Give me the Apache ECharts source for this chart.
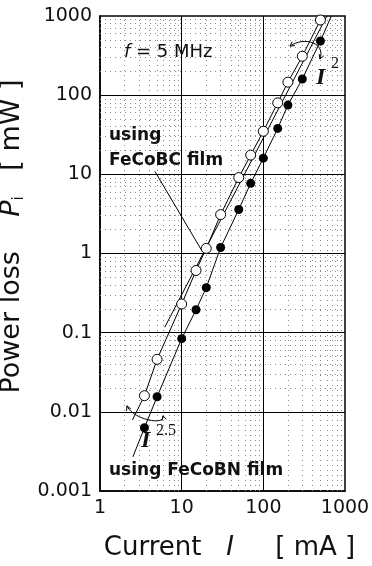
<!DOCTYPE html>
<html><head><meta charset="utf-8">
<script src="https://cdn.jsdelivr.net/npm/echarts@6/dist/echarts.min.js"></script>
<style>html,body{margin:0;padding:0;background:#fff}#c{width:372px;height:566px}</style>
</head><body><div id="c"></div>
<script>
// ---- data ----
const currentMA   = [3.5, 5, 10, 15, 20, 30, 50, 70, 100, 150, 200, 300, 500];
const lossFeCoBC  = [0.016, 0.046, 0.23, 0.61, 1.16, 3.1, 9.1, 17.5, 35, 80, 146, 310, 890];
const lossFeCoBN  = [0.0063, 0.0155, 0.084, 0.195, 0.37, 1.19, 3.6, 7.7, 16, 38, 75, 160, 483];
const lineEndsFeCoBC = [[2.5, 0.0079], [520, 1000]];
const lineEndsFeCoBN = [[2.53, 0.0027], [680, 1000]];
const squareLawLine  = [[6.2, 0.117], [600, 1000]];
const leaderFeCoBC   = [[4.7, 10.9], [18, 1.05]];
const arcTop    = [[212, 417], [323, 558], [584, 455], [493, 286]];
const arcBottom = [[2.14, 0.0119], [2.535, 0.00792], [6.42, 0.00665], [5.9, 0.0089]];
const xTickLabels = ['1', '10', '100', '1000'];
const yTickLabels = ['0.001', '0.01', '0.1', '1', '10', '100', '1000'];
const xMajor = [10, 100];
const yMajor = [0.01, 0.1, 1, 10, 100];
const minorFactors = [2, 3, 4, 5, 6, 7, 8, 9];
const xDecades = [1, 10, 100];
const yDecades = [0.001, 0.01, 0.1, 1, 10, 100];

const pairs = (xs, ys) => xs.map((x, i) => [x, ys[i]]);
const ptsBC = pairs(currentMA, lossFeCoBC);
const ptsBN = pairs(currentMA, lossFeCoBN);

const minorX = [], minorY = [];
xDecades.forEach(d => minorFactors.forEach(f => minorX.push({ xAxis: d * f })));
yDecades.forEach(d => minorFactors.forEach(f => minorY.push({ yAxis: d * f })));
const majorLines = xMajor.map(v => ({ xAxis: v })).concat(yMajor.map(v => ({ yAxis: v })));

const FONT = 'DejaVu Sans';
const chart = echarts.init(document.getElementById('c'), null, { renderer: 'canvas' });

const lineStyle = { color: '#000', width: 1 };
const option = {
  animation: false,
  backgroundColor: '#fff',
  grid: { left: 100, right: 27, top: 16, bottom: 75, containLabel: false, outerBoundsMode: 'none',
          show: true, borderColor: '#000', borderWidth: 1.5, backgroundColor: 'transparent' },
  xAxis: {
    type: 'log', logBase: 10, min: 1, max: 1000, interval: 1,
    axisLine: { show: true, lineStyle: { color: '#000', width: 1.5 } },
    axisTick: { show: false },
    splitLine: { show: false },
    axisLabel: {
      color: '#111', fontFamily: FONT, fontSize: 19, margin: 8,
      formatter: v => xTickLabels[Math.round(Math.log10(v))]
    },
    name: '{n|Current}{n|   }{i|I}{n|     [ mA ]}',
    nameLocation: 'middle', nameGap: 44,
    nameTextStyle: {
      padding: [0, 0, 0, 14],
      rich: {
        n: { fontFamily: FONT, fontSize: 26, color: '#111' },
        i: { fontFamily: FONT, fontSize: 26, fontStyle: 'italic', color: '#111' }
      }
    }
  },
  yAxis: {
    type: 'log', logBase: 10, min: 0.001, max: 1000, interval: 1,
    axisLine: { show: true, lineStyle: { color: '#000', width: 1.5 } },
    axisTick: { show: false },
    splitLine: { show: false },
    axisLabel: {
      color: '#111', fontFamily: FONT, fontSize: 19, margin: 8,
      formatter: v => yTickLabels[Math.round(Math.log10(v)) + 3]
    },
    name: '{n|Power loss}{n|    }{i|P}{s|i}{n|   [ mW ]}',
    nameLocation: 'middle', nameGap: 62, nameRotate: 90,
    nameTextStyle: {
      padding: [0, 0, 0, 34],
      rich: {
        n: { fontFamily: FONT, fontSize: 27, color: '#111' },
        i: { fontFamily: FONT, fontSize: 27, fontStyle: 'italic', color: '#111' },
        s: { fontFamily: FONT, fontSize: 15, color: '#111', verticalAlign: 'bottom', padding: [14, 0, 0, 0] }
      }
    }
  },
  series: [
    {
      type: 'line', data: [], silent: true, z: 1,
      markLine: {
        silent: true, symbol: ['none', 'none'], label: { show: false }, z: 1,
        lineStyle: { color: '#8a8a8a', width: 1, type: [1, 4] },
        data: minorX.concat(minorY)
      }
    },
    {
      type: 'line', data: [], silent: true, z: 2,
      markLine: {
        silent: true, symbol: ['none', 'none'], label: { show: false }, z: 2,
        lineStyle: { color: '#000', width: 1, type: 'solid' },
        data: majorLines
      }
    },
    { type: 'line', data: [lineEndsFeCoBC[0]].concat(ptsBC, [lineEndsFeCoBC[1]]), showSymbol: false, lineStyle, z: 3 },
    { type: 'line', data: [lineEndsFeCoBN[0]].concat(ptsBN, [lineEndsFeCoBN[1]]), showSymbol: false, lineStyle, z: 3 },
    { type: 'line', data: squareLawLine, showSymbol: false, lineStyle, z: 3 },
    { type: 'line', data: leaderFeCoBC, showSymbol: false, lineStyle, z: 3 },
    { type: 'scatter', data: ptsBC, symbol: 'circle', symbolSize: 10,
      itemStyle: { color: '#fff', borderColor: '#000', borderWidth: 1, opacity: 1 }, z: 5 },
    { type: 'scatter', data: ptsBN, symbol: 'circle', symbolSize: 9,
      itemStyle: { color: '#000', opacity: 1 }, z: 5 }
  ]
};
chart.setOption(option);

// ---- annotations ----
function txt(x, y, rich, text, align) {
  return { type: 'text', x, y, z: 10, style: { text, rich, align: align || 'left', verticalAlign: 'middle', fill: '#111' } };
}
const boldStyle = { b: { fontFamily: FONT, fontSize: 17, fontWeight: 'bold', color: '#111' } };
const graphics = [
  txt(124, 52, {
    i: { fontFamily: FONT, fontSize: 18, fontStyle: 'italic', color: '#111' },
    n: { fontFamily: FONT, fontSize: 18, color: '#111' }
  }, '{i|f}{n| = 5 MHz}'),
  txt(109, 136, boldStyle, '{b|using}'),
  txt(109, 161, boldStyle, '{b|FeCoBC film}'),
  txt(109, 471, boldStyle, '{b|using FeCoBN film}'),
  txt(316, 78, {
    i: { fontFamily: 'Liberation Serif', fontSize: 24, fontStyle: 'italic', fontWeight: 'bold', color: '#111' }
  }, '{i|I}'),
  txt(331, 64, { s: { fontFamily: 'Liberation Serif', fontSize: 16, color: '#111' } }, '{s|2}'),
  txt(141, 441, {
    i: { fontFamily: 'Liberation Serif', fontSize: 24, fontStyle: 'italic', fontWeight: 'bold', color: '#111' }
  }, '{i|I}'),
  txt(156, 431, { s: { fontFamily: 'Liberation Serif', fontSize: 16, color: '#111' } }, '{s|2.5}')
];

function arcGraphics(arc) {
  const p = arc.map(d => chart.convertToPixel({ gridIndex: 0 }, d));
  const out = [{
    type: 'bezierCurve', z: 10,
    shape: { x1: p[0][0], y1: p[0][1], cpx1: p[1][0], cpy1: p[1][1], cpx2: p[2][0], cpy2: p[2][1], x2: p[3][0], y2: p[3][1] },
    style: { stroke: '#000', lineWidth: 1, fill: null }
  }];
  const head = (tip, from) => {
    const dx = tip[0] - from[0], dy = tip[1] - from[1];
    const L = Math.hypot(dx, dy) || 1, ux = dx / L, uy = dy / L, s = 5, a = 0.5;
    const l1 = [tip[0] - s * (ux * Math.cos(a) - uy * Math.sin(a)), tip[1] - s * (uy * Math.cos(a) + ux * Math.sin(a))];
    const l2 = [tip[0] - s * (ux * Math.cos(-a) - uy * Math.sin(-a)), tip[1] - s * (uy * Math.cos(-a) + ux * Math.sin(-a))];
    return { type: 'polyline', z: 10, shape: { points: [l1, tip, l2] }, style: { stroke: '#000', lineWidth: 1, fill: null } };
  };
  out.push(head(p[3], p[2]));
  out.push(head(p[0], p[1]));
  return out;
}
chart.setOption({ graphic: graphics.concat(arcGraphics(arcTop), arcGraphics(arcBottom)) });
</script>
</body></html>
